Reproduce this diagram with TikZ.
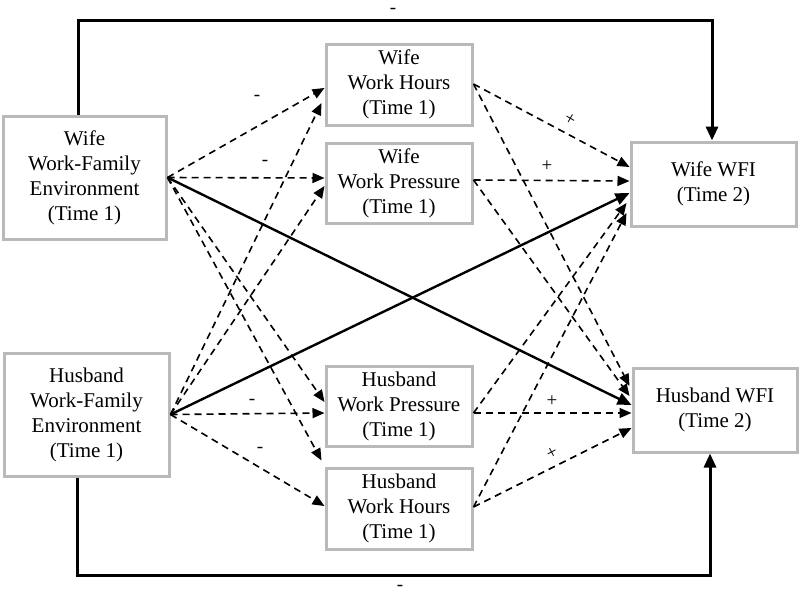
\documentclass[tikz,border=0pt]{standalone}
\usepackage{fontspec}
\setmainfont{Liberation Serif}
\usetikzlibrary{arrows.meta,calc}
\definecolor{boxgray}{RGB}{185,185,185}
\begin{document}
\begin{tikzpicture}[x=1pt,y=-1pt,
  box/.style={draw=boxgray, line width=3pt, fill=white, align=center, inner sep=0pt,
    font=\fontsize{21}{25}\selectfont},
  dline/.style={line width=1.6pt, dash pattern=on 7pt off 5pt,
    -{Triangle[length=12pt,width=10pt]}},
  sline/.style={line width=2.4pt, -{Triangle[length=14pt,width=12pt]}},
  frame/.style={line width=3pt, -{Triangle[length=14pt,width=12pt]}},
  lab/.style={font=\fontsize{19}{19}\selectfont, inner sep=0pt}]
\useasboundingbox (0,0) rectangle (800,597);

% boxes
\node[box, minimum width=163pt, minimum height=123pt] (wwfe) at (84.5,177.5)
  {Wife\\Work-Family\\Environment\\(Time 1)};
\node[box, minimum width=165pt, minimum height=123pt] (hwfe) at (86.5,414.5)
  {Husband\\Work-Family\\Environment\\(Time 1)};
\node[box, minimum width=146pt, minimum height=81pt] (wwh) at (399,84.5)
  {Wife\\Work Hours\\(Time 1)};
\node[box, minimum width=146pt, minimum height=80pt] (wwp) at (399,183)
  {Wife\\Work Pressure\\(Time 1)};
\node[box, minimum width=146pt, minimum height=80pt] (hwp) at (399,406)
  {Husband\\Work Pressure\\(Time 1)};
\node[box, minimum width=146pt, minimum height=81pt] (hwh) at (399,508.5)
  {Husband\\Work Hours\\(Time 1)};
\node[box, minimum width=165pt, minimum height=84pt] (wwfi) at (713.5,184)
  {Wife WFI\\(Time 2)};
\node[box, minimum width=164pt, minimum height=84pt] (hwfi) at (715,410)
  {Husband WFI\\(Time 2)};

% frame connectors
\coordinate (tl) at (78,20);
\coordinate (tr) at (712,20);
\coordinate (bl) at (77,575);
\coordinate (br) at (710,575);
\draw[frame] (wwfe.north -| tl) -- (tl) -- (tr) -- (tr |- wwfi.north);
\draw[frame] (hwfe.south -| bl) -- (bl) -- (br) -- (br |- hwfi.south);

% from wife environment
\draw[dline] (wwfe.east) -- ($(wwh.west)+(0,3.5)$);
\draw[dline] (wwfe.east) -- ($(wwp.west)+(0,-5)$);
\draw[dline] (wwfe.east) -- ($(hwp.west)+(0,-4)$);
\draw[dline] (wwfe.east) -- ($(hwh.north west)+(-3,-6)$);
\draw[sline] (wwfe.east) -- ($(hwfi.west)+(0,-5)$);

% from husband environment
\draw[dline] (hwfe.east) -- ($(wwh.west)+(-3,18.5)$);
\draw[dline] (hwfe.east) -- ($(wwp.west)+(0,3)$);
\draw[sline] (hwfe.east) -- ($(wwfi.west)+(0,9)$);
\draw[dline] (hwfe.east) -- ($(hwp.west)+(0,7)$);
\draw[dline] (hwfe.east) -- ($(hwh.west)+(0,-2.5)$);

% mediators to outcomes
\draw[dline] ($(wwh.east)+(0,-0.5)$) -- ($(wwfi.west)+(0,-17)$);
\draw[dline] ($(wwh.east)+(0,-0.5)$) -- ($(hwfi.west)+(-2,-24)$);
\draw[dline] ($(wwp.east)+(0,-3)$) -- ($(wwfi.west)+(0,-3)$);
\draw[dline] ($(wwp.east)+(0,-3)$) -- ($(hwfi.west)+(-2,-14)$);
\draw[dline] ($(hwp.east)+(0,7)$) -- ($(hwfi.west)+(0,3)$);
\draw[dline] ($(hwp.east)+(0,7)$) -- ($(wwfi.west)+(-3,19)$);
\draw[dline] ($(hwh.east)+(0,-1.5)$) -- ($(hwfi.west)+(0,18)$);
\draw[dline] ($(hwh.east)+(0,-1.5)$) -- ($(wwfi.west)+(-3,29)$);

% labels
\node[lab] (m1) at (257,98) {-};
\node[lab] (m2) at (265,163) {-};
\node[lab] (m3) at (252,402) {-};
\node[lab] (m4) at (260,450) {-};
\node[lab] (mtop) at (393,11) {-};
\node[lab] (mbot) at (400,588) {-};
\node[lab, rotate=-30] (p1) at (570,120) {+};
\node[lab] (p2) at (547,166) {+};
\node[lab] (p3) at (552,401) {+};
\node[lab, rotate=28] (p4) at (552,453) {+};
\end{tikzpicture}
\end{document}
